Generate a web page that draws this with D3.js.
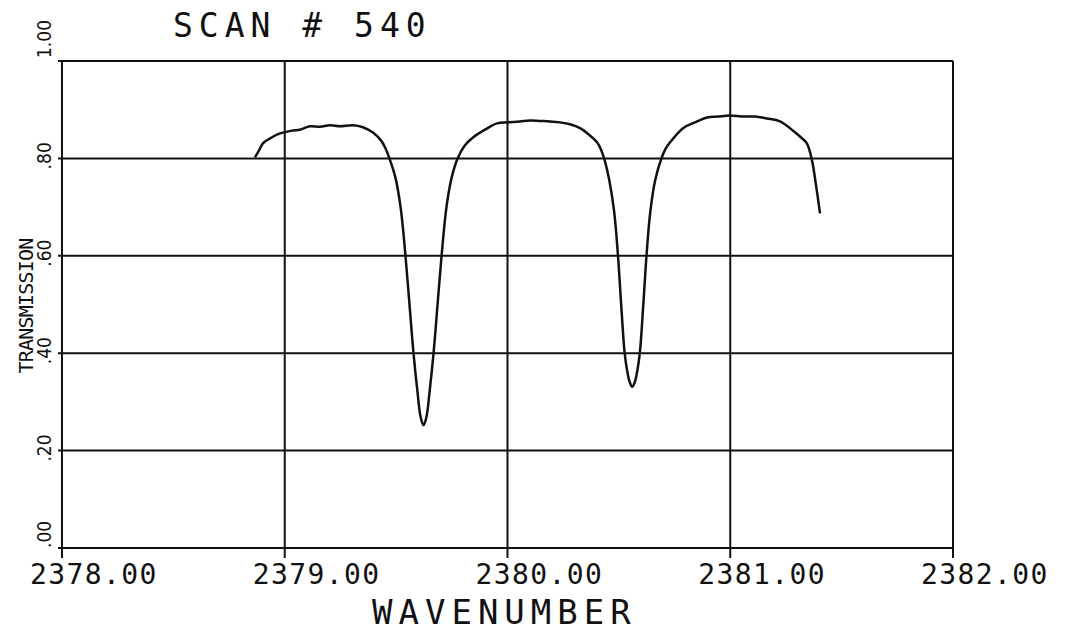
<!DOCTYPE html>
<html>
<head>
<meta charset="utf-8">
<script src="https://cdn.jsdelivr.net/npm/d3@7"></script>
<style>
  html, body { margin: 0; padding: 0; background: #ffffff; }
  svg { display: block; }
  text { font-family: "DejaVu Sans Mono", monospace; fill: #111; }
</style>
</head>
<body>
<svg id="chart" width="1065" height="633"></svg>
<script>
// ---- data ----
const titleText = "SCAN # 540";
const xLabel = "WAVENUMBER";
const yLabel = "TRANSMISSION";
const xTicks = [2378, 2379, 2380, 2381, 2382];
const xTickLabels = ["2378.00", "2379.00", "2380.00", "2381.00", "2382.00"];
const yTicks = [0, 0.2, 0.4, 0.6, 0.8, 1.0];
const yTickLabels = [".00", ".20", ".40", ".60", ".80", "1.00"];

const wavenumber = [
  2378.866, 2378.884, 2378.902, 2378.934, 2378.965, 2378.992, 2379.033, 2379.068,
  2379.113, 2379.158, 2379.203, 2379.248, 2379.306, 2379.351, 2379.396, 2379.432,
  2379.451, 2379.470, 2379.497, 2379.520, 2379.542, 2379.560, 2379.578, 2379.596,
  2379.6095, 2379.623, 2379.6365, 2379.650, 2379.668, 2379.686, 2379.704, 2379.726,
  2379.749, 2379.776, 2379.809, 2379.845, 2379.899,
  2379.953, 2380.002, 2380.056, 2380.101, 2380.146, 2380.191, 2380.236, 2380.281,
  2380.326, 2380.370, 2380.402, 2380.420, 2380.437, 2380.457, 2380.479, 2380.496, 2380.511,
  2380.526, 2380.538, 2380.549, 2380.560, 2380.571, 2380.582, 2380.594, 2380.609,
  2380.624, 2380.641, 2380.663, 2380.691, 2380.710, 2380.730, 2380.788, 2380.842,
  2380.896, 2380.945, 2380.999, 2381.053, 2381.111, 2381.165, 2381.223, 2381.282,
  2381.318, 2381.344, 2381.367, 2381.385, 2381.403
];
const transmission = [
  0.802, 0.816, 0.831, 0.841, 0.849, 0.853, 0.857, 0.859,
  0.866, 0.865, 0.868, 0.866, 0.868, 0.864, 0.853, 0.837,
  0.822, 0.800, 0.760, 0.700, 0.600, 0.500, 0.400, 0.320,
  0.270, 0.252, 0.270, 0.320, 0.400, 0.500, 0.600, 0.700,
  0.760, 0.800, 0.827, 0.843, 0.859,
  0.872, 0.874, 0.876, 0.878, 0.877, 0.876, 0.874, 0.870,
  0.862, 0.847, 0.833, 0.818, 0.795, 0.755, 0.690, 0.600, 0.495,
  0.400, 0.362, 0.340, 0.331, 0.340, 0.362, 0.400, 0.495,
  0.600, 0.690, 0.755, 0.800, 0.820, 0.833, 0.862, 0.874,
  0.884, 0.886, 0.888, 0.886, 0.886, 0.882, 0.876, 0.857,
  0.843, 0.831, 0.796, 0.745, 0.687
];

// ---- drawing ----
const svg = d3.select("#chart");
const x = d3.scaleLinear().domain([2378, 2382]).range([62, 953]);
const y = d3.scaleLinear().domain([0, 1]).range([548, 61]);
const ink = "#111";

// horizontal grid lines
svg.append("g").selectAll("line").data(yTicks).join("line")
  .attr("x1", x(2378) - 4).attr("x2", x(2382))
  .attr("y1", d => y(d)).attr("y2", d => y(d))
  .attr("stroke", ink).attr("stroke-width", 2);

// vertical grid lines (with tick extension below)
svg.append("g").selectAll("line").data(xTicks).join("line")
  .attr("x1", d => x(d)).attr("x2", d => x(d))
  .attr("y1", y(1)).attr("y2", y(0) + 10)
  .attr("stroke", ink).attr("stroke-width", 2);

// curve
const pts = wavenumber.map((w, i) => [w, transmission[i]]);
const line = d3.line().x(d => x(d[0])).y(d => y(d[1])).curve(d3.curveCatmullRom.alpha(0.5));
svg.append("path").datum(pts).attr("d", line)
  .attr("fill", "none").attr("stroke", ink).attr("stroke-width", 2.5)
  .attr("stroke-linejoin", "round");

// x tick labels
svg.append("g").selectAll("text").data(xTicks).join("text")
  .attr("x", d => x(d) - 32).attr("y", 584)
  .attr("font-size", 28).attr("letter-spacing", 1.4)
  .text((d, i) => xTickLabels[i]);

// y tick labels (rotated, reading upward)
const yLabOffset = (i) => i === 0 ? 0 : (i === yTicks.length - 1 ? -3 : 11);
svg.append("g").selectAll("text").data(yTicks).join("text")
  .attr("transform", (d, i) => `translate(51,${y(d) + yLabOffset(i)}) rotate(-90)`)
  .attr("text-anchor", "start")
  .style("font-family", "'Liberation Sans Narrow', 'DejaVu Sans Condensed', 'DejaVu Sans', sans-serif")
  .attr("font-size", 19)
  .text((d, i) => yTickLabels[i]);

// title
svg.append("text").attr("x", 173).attr("y", 37)
  .attr("font-size", 33).attr("letter-spacing", 6)
  .style("white-space", "pre")
  .text(titleText);

// x axis label
svg.append("text").attr("x", 372).attr("y", 624)
  .attr("font-size", 34).attr("letter-spacing", 6)
  .text(xLabel);

// y axis label
svg.append("text").attr("transform", "translate(33,306) rotate(-90)")
  .attr("text-anchor", "middle")
  .attr("font-size", 20).attr("letter-spacing", -0.8)
  .text(yLabel);
</script>
</body>
</html>
